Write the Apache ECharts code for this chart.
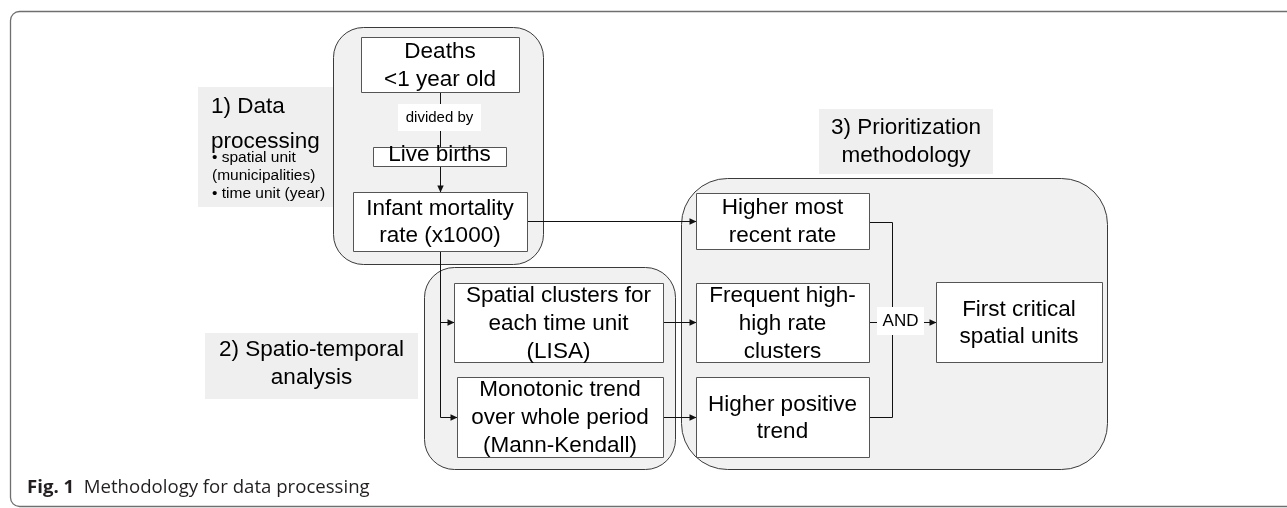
<!DOCTYPE html>
<html><head><meta charset="utf-8">
<script src="https://cdn.jsdelivr.net/npm/echarts@6/dist/echarts.min.js"></script>
<style>html,body{margin:0;padding:0;background:#fff}#c{width:1287px;height:508px}</style>
</head><body><div id="c"></div>
<script>
// ---------------- content (text) ----------------
const stageTitles = [['1) Data', 'processing'], ['2) Spatio-temporal', 'analysis'], ['3) Prioritization', 'methodology']];
const stageNotes = ['• spatial unit', '(municipalities)', '• time unit (year)'];
const stepLabels = [
  ['Deaths', '<1 year old'],
  ['Live births'],
  ['Infant mortality', 'rate (x1000)'],
  ['Spatial clusters for', 'each time unit', '(LISA)'],
  ['Monotonic trend', 'over whole period', '(Mann-Kendall)'],
  ['Higher most', 'recent rate'],
  ['Frequent high-', 'high rate', 'clusters'],
  ['Higher positive', 'trend'],
  ['First critical', 'spatial units']
];
const linkLabels = ['divided by', 'AND'];
const captionBold = 'Fig. 1';
const captionText = 'Methodology for data processing';

// ---------------- layout (diagram units = axis units) ----------------
const frameRect = [10, 11, 1310, 495, 9];
const groupRects = [[333, 27, 210, 237, 30], [424, 267, 251, 202, 30], [681, 178, 426, 291, 46]];
const panelRects = [[198, 87, 135, 120], [205, 333, 213, 66], [819, 109, 174, 65]];
const stepRects = [
  [361, 37, 158, 55], [373, 147, 133, 19], [353, 192, 174, 59],
  [454, 283, 209, 79], [457, 377, 206, 80],
  [696, 193, 173, 56], [696, 283, 173, 79], [696, 377, 173, 80],
  [936, 282, 166, 80]
];
const stepTextY = [66, 154.5, 222, 324, 418, 222, 324, 418.5, 323];
const stepLineH = [27.5, 28, 27, 28, 28, 27.5, 28, 27, 27];
const linkPaths = [
  [[440, 92], [440, 147]],
  [[440, 166], [440, 192]],
  [[527, 221], [696, 221]],
  [[440, 251], [440, 417], [457, 417]],
  [[440, 322], [454, 322]],
  [[663, 322], [696, 322]],
  [[663, 417], [696, 417]],
  [[869, 222], [892, 222], [892, 417], [869, 417]],
  [[869, 322], [936, 322]]
];
const linkArrow = [false, true, true, true, true, true, true, false, true];
const linkLabelRects = [[398, 104, 83, 27], [877, 307, 47, 28]];

const BOX_FAMILY = 'Liberation Sans';
const CAP_FAMILY = 'Open Sans';

function txt(text, x, y, size, align, lineHeight, extra) {
  return { type: 'text', style: Object.assign({
    text, x, y, align, verticalAlign: 'middle',
    fontFamily: BOX_FAMILY, fontSize: size, lineHeight: lineHeight || Math.round(size * 1.25), fill: '#000'
  }, extra || {}) };
}

function rectOf(api, r, crisp) {
  const a = api.coord([r[0], r[1]]), b = api.coord([r[0] + r[2], r[1] + r[3]]);
  const o = crisp ? 0.5 : 0;
  return { x: Math.round(a[0]) + o, y: Math.round(a[1]) + o, width: Math.round(b[0] - a[0]), height: Math.round(b[1] - a[1]) };
}

const chart = echarts.init(document.getElementById('c'), null, { renderer: 'canvas' });

const series = [
  { // outer frame
    type: 'custom', z: 1, silent: true, clip: false,
    data: [[frameRect[0], frameRect[1]]],
    renderItem: (p, api) => {
      const s = rectOf(api, frameRect, true); s.r = frameRect[4];
      return { type: 'rect', shape: s, style: { fill: '#fff', stroke: '#6f6f6f', lineWidth: 1.3 } };
    }
  },
  { // stage label panels
    type: 'custom', z: 2, silent: true, clip: false,
    data: panelRects.map(r => [r[0], r[1]]),
    renderItem: (p, api) => {
      const i = p.dataIndex;
      const children = [{ type: 'rect', shape: rectOf(api, panelRects[i], false), style: { fill: '#efefef' } }];
      if (i === 0) {
        const c1 = api.coord([211, 107]), c2 = api.coord([211, 142]);
        children.push(txt(stageTitles[0][0], c1[0], c1[1], 22.5, 'left'));
        children.push(txt(stageTitles[0][1], c2[0], c2[1], 22.5, 'left'));
        const ys = [158, 176, 193.5];
        stageNotes.forEach((t, k) => {
          const c = api.coord([212, ys[k]]);
          children.push(txt(t, c[0], c[1], 15.5, 'left'));
        });
      } else {
        const r = panelRects[i];
        const c = api.coord([r[0] + r[2] / 2, r[1] + r[3] / 2 + (i === 1 ? -2 : 0)]);
        children.push(txt(stageTitles[i].join('\n'), c[0], c[1], 22.5, 'center', 28));
      }
      return { type: 'group', children };
    }
  },
  { // stage groups
    type: 'custom', z: 3, silent: true, clip: false,
    data: groupRects.map(r => [r[0], r[1]]),
    renderItem: (p, api) => {
      const r = groupRects[p.dataIndex];
      const s = rectOf(api, r, true); s.r = r[4];
      return { type: 'rect', shape: s, style: { fill: '#f1f1f1', stroke: '#3a3a3a', lineWidth: 1 } };
    }
  },
  { // links
    type: 'custom', z: 4, silent: true, clip: false,
    data: linkPaths.map(p => p[0]),
    renderItem: (p, api) => {
      const i = p.dataIndex;
      const pts = linkPaths[i].map(q => { const c = api.coord(q); return [Math.round(c[0]) + 0.5, Math.round(c[1]) + 0.5]; });
      const children = [{ type: 'polyline', shape: { points: pts }, style: { stroke: '#111', lineWidth: 1, fill: null } }];
      if (linkArrow[i]) {
        const [x1, y1] = pts[pts.length - 2], [x2, y2] = pts[pts.length - 1];
        const dx = x2 - x1, dy = y2 - y1, L = Math.hypot(dx, dy), ux = dx / L, uy = dy / L;
        const len = 7, hw = 3.2, bx = x2 - ux * len, by = y2 - uy * len;
        children.push({ type: 'polygon', shape: { points: [[x2, y2], [bx - uy * hw, by + ux * hw], [bx + uy * hw, by - ux * hw]] }, style: { fill: '#111' } });
      }
      return { type: 'group', children };
    }
  },
  { // step boxes
    type: 'custom', z: 5, silent: true, clip: false,
    data: stepRects.map(r => [r[0], r[1]]),
    renderItem: (p, api) => {
      const i = p.dataIndex, r = stepRects[i];
      const c = api.coord([r[0] + r[2] / 2, stepTextY[i]]);
      return { type: 'group', children: [
        { type: 'rect', shape: rectOf(api, r, true), style: { fill: '#fff', stroke: '#555', lineWidth: 1 } },
        txt(stepLabels[i].join('\n'), c[0], c[1], 22.5, 'center', stepLineH[i])
      ] };
    }
  },
  { // link labels
    type: 'custom', z: 6, silent: true, clip: false,
    data: linkLabelRects.map(r => [r[0], r[1]]),
    renderItem: (p, api) => {
      const i = p.dataIndex, r = linkLabelRects[i];
      const c = api.coord([r[0] + r[2] / 2, r[1] + r[3] / 2]);
      return { type: 'group', children: [
        { type: 'rect', shape: rectOf(api, r, false), style: { fill: '#fff' } },
        txt(linkLabels[i], c[0], c[1], i === 0 ? 15 : 17, 'center')
      ] };
    }
  },
  { // caption
    type: 'custom', z: 7, silent: true, clip: false,
    data: [[27, 488]],
    renderItem: (p, api) => {
      const c = api.coord([27, 488]);
      return { type: 'text', style: {
        text: '{b|' + captionBold + '}{n|  ' + captionText + '}', x: c[0], y: c[1], align: 'left', verticalAlign: 'middle',
        rich: {
          b: { fontFamily: CAP_FAMILY, fontWeight: 'bold', fontSize: 18.6, fill: '#231f20' },
          n: { fontFamily: CAP_FAMILY, fontSize: 18.6, fill: '#231f20' }
        }
      } };
    }
  }
];

chart.setOption({
  animation: false,
  backgroundColor: '#fff',
  grid: { left: 0, right: 0, top: 0, bottom: 0, containLabel: false },
  xAxis: { type: 'value', min: 0, max: 1287, show: false },
  yAxis: { type: 'value', min: 0, max: 508, inverse: true, show: false },
  series
});
</script></body></html>
